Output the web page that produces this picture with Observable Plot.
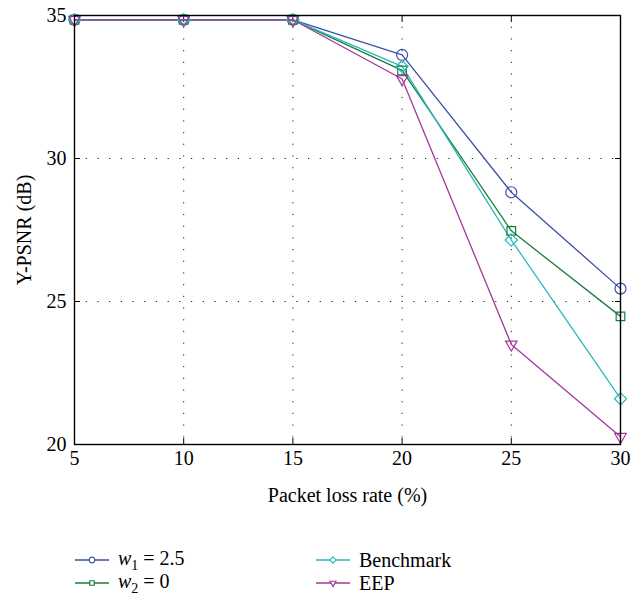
<!DOCTYPE html>
<html><head><meta charset="utf-8">
<script src="https://cdn.jsdelivr.net/npm/d3@7"></script>
<script src="https://cdn.jsdelivr.net/npm/@observablehq/plot@0.6"></script>
<style>
body{margin:0;background:#fff;font-family:"Liberation Serif","DejaVu Serif",serif;}
#chart svg{display:block;}
#legend{position:relative;width:638px;height:87px;font-size:20px;color:#000;font-family:"Liberation Serif","DejaVu Serif",serif;}
.item{position:absolute;display:flex;align-items:center;height:22px;}
.item svg{display:block;margin-right:8px;}
</style></head><body><div id="chart"></div><div id="legend"></div><script>
const lossRates = [5, 10, 15, 20, 25, 30];
const w1Values = [34.85, 34.85, 34.85, 33.62, 28.82, 25.45];
const w2Values = [34.85, 34.85, 34.85, 33.08, 27.47, 24.48];
const benchmarkValues = [34.85, 34.85, 34.85, 33.22, 27.15, 21.6];
const eepValues = [34.85, 34.85, 34.85, 32.78, 23.5, 20.27];
const xTicks = [5, 10, 15, 20, 25, 30];
const yTicks = [20, 25, 30, 35];
const seriesNames = ["w1", "w2", "Benchmark", "EEP"];
const seriesColors = ["#3a50a8", "#1a7d3c", "#2ab9b9", "#a2389c"];
const seriesSymbols = ["circle", "square2", "diamond2", "triangle2"];
const seriesRotate = [0, 0, 0, 180];

const valuesBySeries = [w1Values, w2Values, benchmarkValues, eepValues];
const data = [];
seriesNames.forEach((s, i) => lossRates.forEach((x, j) => data.push({series: s, x, y: valuesBySeries[i][j], rot: seriesRotate[i]})));

const font = '"Liberation Serif","DejaVu Serif",serif';
const chart = Plot.plot({
  width: 638, height: 510,
  marginLeft: 74, marginRight: 18, marginTop: 15, marginBottom: 66,
  style: {fontFamily: font, fontSize: "20px", color: "#000", background: "#fff"},
  x: {domain: [5, 30]},
  y: {domain: [20, 35]},
  color: {domain: seriesNames, range: seriesColors},
  symbol: {domain: seriesNames, range: seriesSymbols},
  marks: [
    Plot.gridX(xTicks, {stroke: "#000", strokeOpacity: 0.9, strokeDasharray: "1.2,10.5"}),
    Plot.gridY(yTicks, {stroke: "#000", strokeOpacity: 0.9, strokeDasharray: "1.2,10.5"}),
    Plot.axisX(xTicks, {anchor: "bottom", tickSize: 0, tickPadding: 6, fontSize: 20, fontFamily: font, label: "Packet loss rate (%)", labelAnchor: "center", labelArrow: "none", labelOffset: 57}),
    Plot.axisY(yTicks, {anchor: "left", tickSize: 0, tickPadding: 8, fontSize: 20, fontFamily: font, label: "Y-PSNR (dB)", labelAnchor: "center", labelArrow: "none", labelOffset: 58}),
    Plot.axisX(xTicks, {anchor: "bottom", tickSize: -6, text: null, label: null, stroke: "#000"}),
    Plot.axisX(xTicks, {anchor: "top", tickSize: -6, text: null, label: null, stroke: "#000"}),
    Plot.axisY(yTicks, {anchor: "left", tickSize: -6, text: null, label: null, stroke: "#000"}),
    Plot.axisY(yTicks, {anchor: "right", tickSize: -6, text: null, label: null, stroke: "#000"}),
    Plot.line(data, {x: "x", y: "y", z: "series", stroke: "series", strokeWidth: 1.3}),
    Plot.dot(data, {x: "x", y: "y", stroke: "series", symbol: "series", rotate: "rot", r: 5.5, fill: "none", strokeWidth: 1.2}),
    Plot.frame({stroke: "#000", strokeWidth: 1.4})
  ]
});
document.getElementById("chart").appendChild(chart);

// legend
const legendLabels = ['<i>w</i><sub style="font-size:14px">1</sub> = 2.5', '<i>w</i><sub style="font-size:14px">2</sub> = 0', 'Benchmark', 'EEP'];
const legendPos = [[74, 50], [74, 73], [315, 50], [315, 73]];
const leg = document.getElementById("legend");
const symPaths = seriesSymbols.map(s => {
  const map = {circle: d3.symbolCircle, square2: d3.symbolSquare2, diamond2: d3.symbolDiamond2, triangle2: d3.symbolTriangle2};
  return d3.symbol(map[s], 26)();
});
seriesNames.forEach((s, i) => {
  const div = document.createElement("div");
  div.className = "item";
  div.style.left = legendPos[i][0] + "px";
  div.style.top = (legendPos[i][1] - 11) + "px";
  div.innerHTML = `<svg width="36" height="22"><line x1="1" x2="35" y1="11" y2="11" stroke="${seriesColors[i]}" stroke-width="1.3"/><path d="${symPaths[i]}" transform="translate(18,11) rotate(${seriesRotate[i]})" fill="#fff" stroke="${seriesColors[i]}" stroke-width="1.2"/></svg><span>${legendLabels[i]}</span>`;
  leg.appendChild(div);
});
</script></body></html>
